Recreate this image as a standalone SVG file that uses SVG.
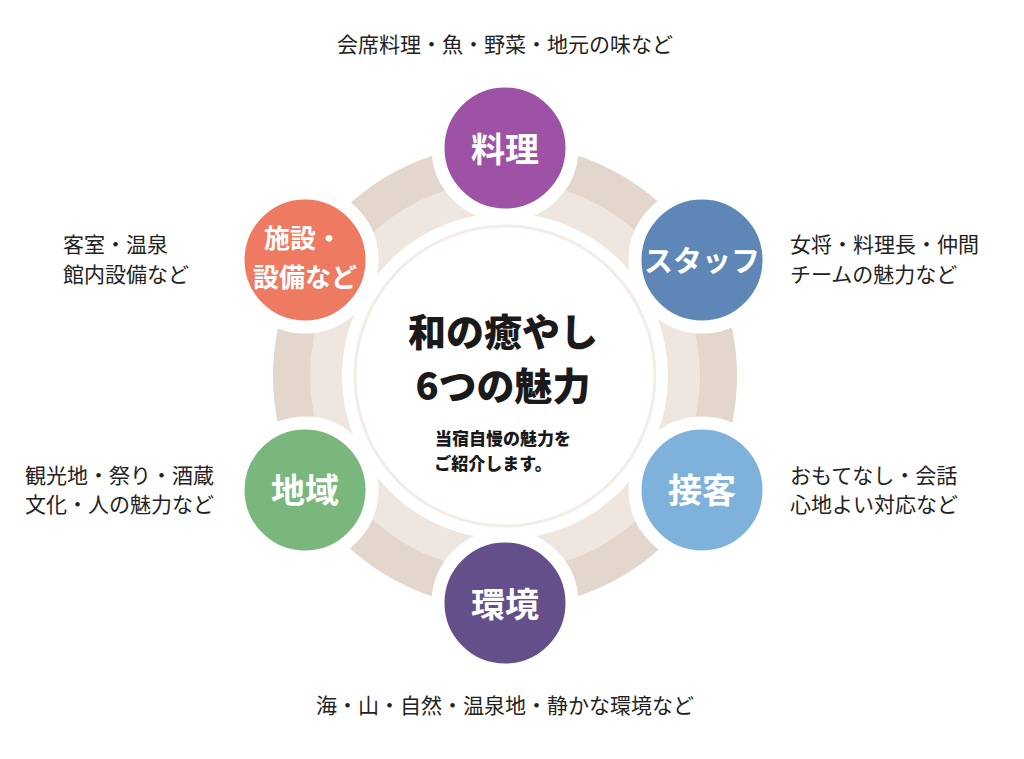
<svg xmlns="http://www.w3.org/2000/svg" width="1024" height="759" viewBox="0 0 1024 759">
<style>
.n{font-family:"Noto Sans CJK JP","Noto Sans",sans-serif;font-weight:bold;fill:#fff;text-anchor:middle}
.d{font-family:"Noto Sans CJK JP","Noto Sans",sans-serif;font-size:21px;fill:#222}
.c{font-family:"Noto Sans CJK JP",sans-serif;font-weight:900;fill:#1a1a1a;text-anchor:middle}
.nc{stroke:#fff;stroke-width:13}
</style>
<rect width="1024" height="759" fill="#fff"/>
<g id="ring">
<circle cx="505" cy="376" r="213" fill="none" stroke="#e3d6cc" stroke-width="38"/>
<circle cx="505" cy="376" r="179" fill="none" stroke="#efe6df" stroke-width="32"/>
<circle cx="505" cy="376" r="150" fill="#fff" stroke="#f3ece7" stroke-width="3"/>
</g>
<g id="center">
<text class="c" x="503" y="346" font-size="38">和の癒やし</text>
<text class="c" x="503" y="400" font-size="38">6つの魅力</text>
<text class="c" x="503" y="445" font-size="17">当宿自慢の魅力を</text>
<text class="c" x="493" y="470" font-size="17">ご紹介します。</text>
</g>
<g id="n1"><circle class="nc" cx="505" cy="148" r="67" fill="#9e52a6"/><text class="n" x="505" y="162" font-size="34">料理</text></g>
<g id="n2"><circle class="nc" cx="702" cy="260" r="67" fill="#5e86b6"/><text class="n" x="702" y="272" font-size="29">スタッフ</text></g>
<g id="n3"><circle class="nc" cx="702" cy="490" r="67" fill="#7fb2db"/><text class="n" x="702" y="503" font-size="34">接客</text></g>
<g id="n4"><circle class="nc" cx="505" cy="603" r="67" fill="#644f8a"/><text class="n" x="505" y="617" font-size="34">環境</text></g>
<g id="n5"><circle class="nc" cx="305" cy="490" r="67" fill="#79b77c"/><text class="n" x="305" y="503" font-size="34">地域</text></g>
<g id="n6"><circle class="nc" cx="305" cy="260" r="67" fill="#ee7a62"/><text class="n" x="303" y="248" font-size="26">施設・</text><text class="n" x="305" y="287" font-size="26">設備など</text></g>
<g id="labels">
<text class="d" x="505" y="52" text-anchor="middle">会席料理・魚・野菜・地元の味など</text>
<text class="d" x="790" y="252">女将・料理長・仲間</text>
<text class="d" x="790" y="282">チームの魅力など</text>
<text class="d" x="790" y="483">おもてなし・会話</text>
<text class="d" x="790" y="512">心地よい対応など</text>
<text class="d" x="505" y="713" text-anchor="middle">海・山・自然・温泉地・静かな環境など</text>
<text class="d" x="63" y="252">客室・温泉</text>
<text class="d" x="63" y="282">館内設備など</text>
<text class="d" x="25" y="483">観光地・祭り・酒蔵</text>
<text class="d" x="25" y="512">文化・人の魅力など</text>
</g>
</svg>
